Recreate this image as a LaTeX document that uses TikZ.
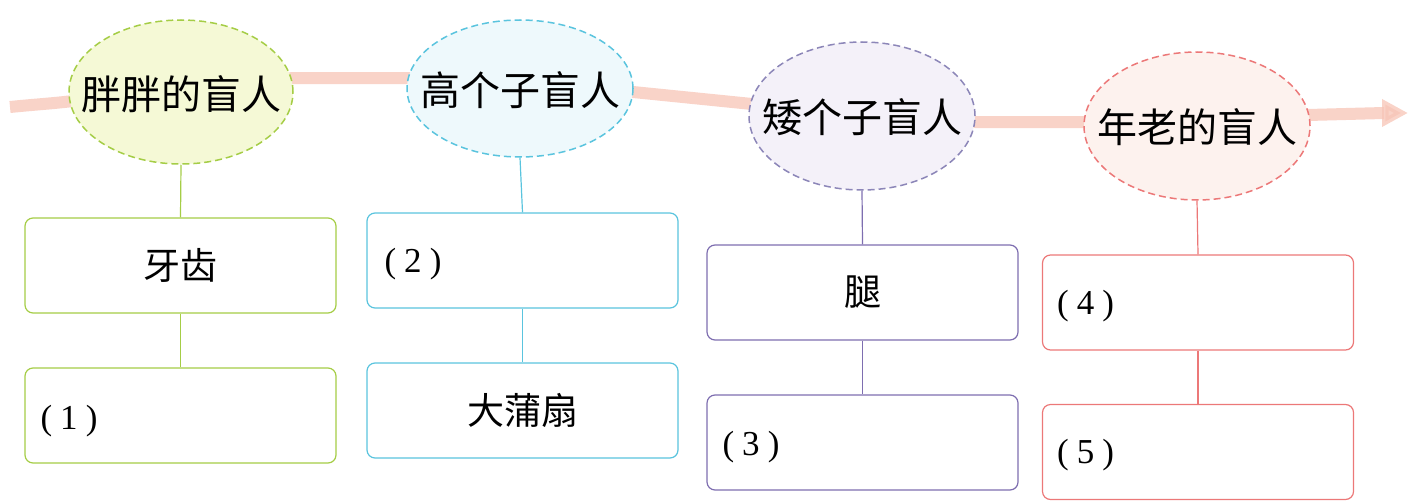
\documentclass[tikz,border=0pt]{standalone}
\usepackage{fontspec}
\setmainfont{Liberation Serif}
\newfontfamily\cjk{Noto Sans CJK SC}
\usetikzlibrary{shapes.geometric,arrows.meta}
\definecolor{gline}{RGB}{165,205,70}
\definecolor{gfill}{RGB}{245,249,214}
\definecolor{cline}{RGB}{90,196,222}
\definecolor{cfill}{RGB}{238,249,252}
\definecolor{pline}{RGB}{126,110,176}
\definecolor{pell}{RGB}{140,134,184}
\definecolor{pfill}{RGB}{244,241,249}
\definecolor{rline}{RGB}{236,120,120}
\definecolor{rfill}{RGB}{253,242,238}
\definecolor{band}{RGB}{247,196,182}
\tikzset{
  ovalnode/.style={ellipse,draw,dashed,dash pattern=on 7pt off 4pt,line width=1.5pt,inner sep=0pt},
  ovaltext/.style={inner sep=0pt,font=\cjk\fontsize{40}{40}\selectfont},
  boxnode/.style={draw,rounded corners=8pt,line width=1.2pt,minimum width=311pt,minimum height=95pt,inner sep=0pt,fill=white,font=\cjk\fontsize{37}{37}\selectfont},
  numtext/.style={anchor=west,inner sep=0pt,font=\fontsize{35}{35}\selectfont},
  conn/.style={line width=1.2pt}
}
\newcommand{\num}[1]{(\kern8pt#1\kern8pt)}
\begin{document}
\begin{tikzpicture}[x=1pt,y=-1pt]
\useasboundingbox (0,0) rectangle (1412,503);
% background band arrow
\coordinate (bs) at (10,107);
\coordinate (be) at (1408,113);
\draw[band,line width=12pt,opacity=0.75,-{Triangle[length=26pt,width=26pt]}]
  (bs) .. controls (40,104) and (60,103) .. (80,100)
  -- (293,78) -- (408,78)
  -- (633,92) -- (752,104)
  -- (975,122) -- (1085,122)
  -- (1308,115) -- (1384,113) -- (be);
% ellipses
\node[ovalnode,draw=gline,fill=gfill,minimum width=224pt,minimum height=144pt] (e1) at (181,92) {};
\node[ovalnode,draw=cline,fill=cfill,minimum width=226pt,minimum height=137pt] (e2) at (520,88.5) {};
\node[ovalnode,draw=pell,fill=pfill,minimum width=226pt,minimum height=148pt] (e3) at (862,116) {};
\node[ovalnode,draw=rline,fill=rfill,minimum width=226pt,minimum height=148pt] (e4) at (1197,126) {};
\node[ovaltext] (l1) at ([yshift=-2pt]e1.center) {胖胖的盲人};
\node[ovaltext] (l2) at ([yshift=-2pt]e2.center) {高个子盲人};
\node[ovaltext] (l3) at ([yshift=-1pt]e3.center) {矮个子盲人};
\node[ovaltext] (l4) at ([yshift=-1pt]e4.center) {年老的盲人};
% boxes
\node[boxnode,draw=gline] (a1) at (180.5,265.5) {牙齿};
\node[boxnode,draw=gline] (a2) at (180.5,415.5) {};
\node[boxnode,draw=cline] (b1) at (522.5,260.5) {};
\node[boxnode,draw=cline] (b2) at (522.5,410.5) {大蒲扇};
\node[boxnode,draw=pline] (c1) at (862.5,292.5) {腿};
\node[boxnode,draw=pline] (c2) at (862.5,442.5) {};
\node[boxnode,draw=rline] (d1) at (1198,302.5) {};
\node[boxnode,draw=rline] (d2) at (1198,452) {};
% labels
\node[numtext] (t1) at ([xshift=16pt,yshift=-6pt]a2.west) {\num{1}};
\node[numtext] (t2) at ([xshift=18pt,yshift=-4pt]b1.west) {\num{2}};
\node[numtext] (t3) at ([xshift=16pt,yshift=-5pt]c2.west) {\num{3}};
\node[numtext] (t4) at ([xshift=15pt,yshift=-4pt]d1.west) {\num{4}};
\node[numtext] (t5) at ([xshift=15pt,yshift=-3pt]d2.west) {\num{5}};
% connectors
\draw[conn,gline] (e1.south) -- (a1.north);
\draw[conn,gline] (a1.south) -- (a2.north);
\draw[conn,cline] (e2.south) -- (b1.north);
\draw[conn,cline] (b1.south) -- (b2.north);
\draw[conn,pline] (e3.south) -- (c1.north);
\draw[conn,pline] (c1.south) -- (c2.north);
\draw[conn,rline] (e4.south) -- (d1.north);
\draw[conn,rline] (d1.south) -- (d2.north);
\end{tikzpicture}
\end{document}
